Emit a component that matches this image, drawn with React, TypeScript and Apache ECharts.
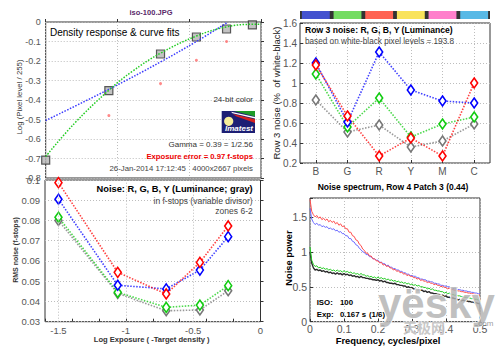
import React, { useEffect, useRef } from "react";
import * as echarts from "echarts";

const FONT = "'Liberation Sans', Arial, Helvetica, sans-serif";

// ---- Panel 1: density response ----
const densityX = [-1.5, -1.06, -0.7, -0.45, -0.24, -0.06];
const densityGray = [-0.708, -0.352, -0.164, -0.077, -0.036, -0.015];
const densityRedX = [-1.06, -0.7, -0.45, -0.24];
const densityRed = [-0.48, -0.316, -0.196, -0.1];
const fitBlueX = [-1.5, -1.06, -0.7, -0.45, -0.24];
const fitBlue = [-0.505, -0.345, -0.205, -0.1, -0.005];
const fitGreenX = [-1.5, -1.3, -1.06, -0.9, -0.7, -0.45, -0.24, -0.06, 0];
const fitGreen = [-0.69, -0.52, -0.35, -0.255, -0.16, -0.072, -0.025, -0.012, -0.012];

// ---- Panel 2: noise in f-stops ----
const noiseX = [-1.5, -1.06, -0.7, -0.45, -0.24];
const noiseR = [0.0987, 0.0544, 0.0437, 0.0593, 0.0773];
const noiseG = [0.0816, 0.0445, 0.0371, 0.0382, 0.0478];
const noiseB = [0.0905, 0.048, 0.0462, 0.0555, 0.072];
const noiseY = [0.08, 0.044, 0.0354, 0.0358, 0.0453];
const noiseGridX = [-1.5, -1, -0.5];

// ---- Panel 3: row 3 noise ----
const patchCats = ["B", "G", "R", "Y", "M", "C"];
const stripColors = ["#4352cf", "#74dc62", "#ff6453", "#f9e35c", "#ff7fcb", "#58b9e6"];
const rowR = [1.18, 0.67, 0.27, 0.45, 0.27, 1.0];
const rowG = [1.09, 0.56, 0.85, 0.46, 0.59, 0.66];
const rowB = [1.2, 0.61, 1.31, 0.93, 0.82, 0.8];
const rowY = [0.83, 0.51, 0.58, 0.36, 0.42, 0.59];

// ---- Panel 4: noise spectrum (step 0.005 cycles/pixel) ----
const specRed = [
  1.75, 1.58, 1.53, 1.5, 1.52, 1.48, 1.5, 1.46, 1.48, 1.45,
  1.47, 1.43, 1.45, 1.42, 1.44, 1.4, 1.42, 1.38, 1.4, 1.36,
  1.37, 1.33, 1.33, 1.28, 1.28, 1.23, 1.22, 1.17, 1.16, 1.11,
  1.09, 1.04, 1.02, 0.98, 0.98, 0.94, 0.94, 0.9, 0.9, 0.87,
  0.87, 0.84, 0.85, 0.81, 0.82, 0.79, 0.8, 0.77, 0.77, 0.74,
  0.75, 0.72, 0.73, 0.7, 0.71, 0.68, 0.69, 0.66, 0.67, 0.65,
  0.65, 0.63, 0.63, 0.61, 0.62, 0.59, 0.6, 0.58, 0.58, 0.56,
  0.57, 0.55, 0.55, 0.53, 0.54, 0.52, 0.52, 0.5, 0.51, 0.49,
  0.49, 0.47, 0.48, 0.46, 0.46, 0.45, 0.45, 0.44, 0.44, 0.43,
  0.43, 0.42, 0.42, 0.41, 0.41, 0.4, 0.4, 0.39, 0.39, 0.38,
  0.38,
];
const specBlue = [
  1.62, 1.47, 1.42, 1.39, 1.41, 1.38, 1.39, 1.36, 1.37, 1.35,
  1.36, 1.33, 1.34, 1.32, 1.33, 1.3, 1.31, 1.28, 1.29, 1.26,
  1.26, 1.23, 1.23, 1.19, 1.19, 1.15, 1.14, 1.1, 1.09, 1.05,
  1.03, 1.0, 0.99, 0.96, 0.96, 0.93, 0.93, 0.9, 0.9, 0.88,
  0.88, 0.85, 0.85, 0.83, 0.83, 0.8, 0.81, 0.78, 0.78, 0.76,
  0.76, 0.74, 0.74, 0.72, 0.72, 0.7, 0.7, 0.68, 0.68, 0.66,
  0.66, 0.65, 0.65, 0.63, 0.63, 0.61, 0.61, 0.6, 0.6, 0.58,
  0.58, 0.57, 0.57, 0.55, 0.55, 0.54, 0.54, 0.52, 0.52, 0.51,
  0.51, 0.5, 0.5, 0.48, 0.48, 0.47, 0.47, 0.46, 0.46, 0.45,
  0.45, 0.44, 0.44, 0.43, 0.43, 0.42, 0.42, 0.41, 0.41, 0.4,
  0.4,
];
const specGreen = [
  1.07, 0.88, 0.82, 0.79, 0.8, 0.77, 0.78, 0.76, 0.77, 0.75,
  0.76, 0.74, 0.75, 0.73, 0.74, 0.72, 0.74, 0.72, 0.73, 0.71,
  0.73, 0.71, 0.72, 0.7, 0.71, 0.69, 0.7, 0.68, 0.69, 0.67,
  0.69, 0.67, 0.67, 0.65, 0.66, 0.64, 0.65, 0.63, 0.64, 0.62,
  0.64, 0.62, 0.63, 0.61, 0.62, 0.6, 0.61, 0.59, 0.6, 0.58,
  0.59, 0.57, 0.58, 0.56, 0.57, 0.55, 0.56, 0.54, 0.55, 0.53,
  0.54, 0.52, 0.53, 0.51, 0.52, 0.5, 0.5, 0.49, 0.49, 0.47,
  0.48, 0.46, 0.47, 0.45, 0.45, 0.44, 0.44, 0.43, 0.43, 0.41,
  0.42, 0.4, 0.41, 0.39, 0.39, 0.38, 0.38, 0.37, 0.37, 0.36,
  0.36, 0.35, 0.35, 0.34, 0.34, 0.33, 0.33, 0.32, 0.32, 0.31,
  0.32,
];
const specGray = [
  1.0, 0.84, 0.77, 0.74, 0.75, 0.73, 0.74, 0.72, 0.73, 0.71,
  0.72, 0.7, 0.71, 0.69, 0.7, 0.68, 0.7, 0.68, 0.69, 0.67,
  0.69, 0.67, 0.68, 0.66, 0.67, 0.65, 0.66, 0.64, 0.65, 0.63,
  0.65, 0.63, 0.63, 0.62, 0.62, 0.61, 0.61, 0.6, 0.6, 0.59,
  0.6, 0.58, 0.59, 0.57, 0.58, 0.56, 0.56, 0.55, 0.55, 0.54,
  0.55, 0.53, 0.53, 0.52, 0.52, 0.51, 0.51, 0.49, 0.5, 0.48,
  0.49, 0.47, 0.47, 0.46, 0.46, 0.45, 0.45, 0.43, 0.44, 0.42,
  0.43, 0.41, 0.41, 0.4, 0.4, 0.39, 0.39, 0.37, 0.38, 0.36,
  0.37, 0.35, 0.35, 0.34, 0.34, 0.33, 0.33, 0.31, 0.32, 0.3,
  0.31, 0.3, 0.3, 0.29, 0.29, 0.28, 0.28, 0.27, 0.27, 0.26,
  0.26,
];

const pts = (xs: number[], ys: number[]) => xs.map((x, i) => [x, ys[i]]);
const specPts = (ys: number[]) => ys.map((y, i) => [i / 200, y]);

const LABEL = "#555";
const split = { show: true, lineStyle: { color: "#bdbdbd", type: [1, 2], width: 1 } };
const tick = { show: true, inside: true, length: 3, lineStyle: { color: "#333" } };
const noLine = { show: false };

function txt(text: string, x: number, y: number, o: any = {}) {
  return {
    type: "text",
    x,
    y,
    z: o.z || 100,
    rotation: o.rotation || 0,
    style: {
      text,
      fontFamily: o.fontFamily || FONT,
      fontSize: o.fontSize || 8,
      fontWeight: o.fontWeight || "normal",
      fontStyle: o.fontStyle || "normal",
      fill: o.fill || "#333",
      stroke: o.stroke,
      lineWidth: o.lineWidth,
      textAlign: o.align || "left",
      textVerticalAlign: o.valign || "middle",
    },
  };
}

function dotLine(name: string, data: any[], color: string, xi: number, yi: number, extra: any = {}) {
  return {
    type: "line",
    name,
    xAxisIndex: xi,
    yAxisIndex: yi,
    data,
    symbol: "diamond",
    symbolSize: [7, 10],
    showAllSymbol: true,
    itemStyle: { color: "#fff", borderColor: color, borderWidth: 1.6 },
    lineStyle: { color, type: [1.5, 1.5], width: 1.6, opacity: 0.75 },
    emphasis: { disabled: true },
    ...extra,
  };
}

export default function App() {
  const ref = useRef<HTMLDivElement>(null);
  useEffect(() => {
    if (!ref.current) return;
    const chart = echarts.init(ref.current, undefined, { renderer: "svg" });
    const gridBox = { show: true, borderColor: "#333", borderWidth: 1, backgroundColor: "#fff" };
    const option: any = {
      animation: false,
      backgroundColor: "#fff",
      grid: [
        { ...gridBox, left: 45.7, top: 22, width: 215.3, height: 156 },
        { ...gridBox, left: 45, top: 180, width: 215.5, height: 141.7 },
        { ...gridBox, left: 300, top: 23, width: 190, height: 140 },
        { ...gridBox, left: 310, top: 198, width: 170, height: 123.7 },
        { show: true, borderWidth: 0, backgroundColor: "#333", left: 300, top: 11, width: 190, height: 8 },
      ],
      xAxis: [
        { gridIndex: 0, type: "value", min: -1.5, max: 0, interval: 0.5, axisLine: noLine, axisTick: tick, axisLabel: { show: false }, splitLine: split },
        { gridIndex: 1, type: "value", min: -1.6, max: 0, interval: 0.2, axisLine: noLine, axisTick: tick, axisLabel: { show: false }, splitLine: { show: false } },
        {
          gridIndex: 1, type: "value", min: -1.6, max: 0, interval: 0.1, position: "bottom",
          axisLine: noLine, axisTick: { show: false }, splitLine: { show: false },
          axisLabel: {
            color: LABEL, fontFamily: FONT, fontSize: 9.5, margin: 4,
            formatter: (v: number) => {
              const k = Math.round(v * 10);
              return k === -15 ? "-1.5" : k === -10 ? "-1" : k === -5 ? "-0.5" : k === 0 ? "0" : "";
            },
          },
        },
        {
          gridIndex: 2, type: "category", data: patchCats, boundaryGap: true, axisLine: noLine,
          axisTick: { ...tick, alignWithLabel: true },
          splitLine: { ...split, alignWithLabel: true },
          axisLabel: { color: LABEL, fontFamily: FONT, fontSize: 10, margin: 3 },
        },
        {
          gridIndex: 3, type: "value", min: 0, max: 0.5, interval: 0.1, axisLine: noLine, axisTick: tick, splitLine: split,
          axisLabel: { color: LABEL, fontFamily: FONT, fontSize: 10.5, margin: 2, formatter: (v: number) => String(Math.round(v * 10) / 10) },
        },
        { gridIndex: 4, type: "category", data: patchCats, show: false },
      ],
      yAxis: [
        {
          gridIndex: 0, type: "value", min: -0.8, max: 0, interval: 0.1, axisLine: noLine, axisTick: tick, splitLine: split,
          axisLabel: { color: LABEL, fontFamily: FONT, fontSize: 9, margin: 5, formatter: (v: number) => String(Math.round(v * 10) / 10) },
        },
        {
          gridIndex: 1, type: "value", min: 0.03, max: 0.1, interval: 0.01, axisLine: noLine, axisTick: tick, splitLine: split,
          axisLabel: { color: LABEL, fontFamily: FONT, fontSize: 9.5, margin: 5, formatter: (v: number) => String(Math.round(v * 100) / 100) },
        },
        {
          gridIndex: 2, type: "value", min: 0.2, max: 1.6, interval: 0.2, axisLine: noLine, axisTick: tick, splitLine: split,
          axisLabel: { color: LABEL, fontFamily: FONT, fontSize: 10, margin: 3, formatter: (v: number) => String(Math.round(v * 10) / 10) },
        },
        {
          gridIndex: 3, type: "value", min: 0, max: 1.77, interval: 0.5, axisLine: noLine, axisTick: tick, splitLine: split,
          axisLabel: {
            color: LABEL, fontFamily: FONT, fontSize: 10.5, margin: 3,
            formatter: (v: number) => {
              const k = Math.round(v * 10);
              return k % 5 === 0 ? String(k / 10) : "";
            },
          },
        },
        { gridIndex: 4, type: "value", min: 0, max: 1, show: false },
      ],
      series: [
        // Panel 1
        {
          type: "line", xAxisIndex: 0, yAxisIndex: 0, data: pts(fitBlueX, fitBlue), smooth: 0.4, symbol: "none",
          lineStyle: { color: "#3b3bff", type: [1.5, 1.5], width: 1.5 }, emphasis: { disabled: true },
        },
        {
          type: "line", xAxisIndex: 0, yAxisIndex: 0, data: pts(fitGreenX, fitGreen), smooth: 0.4, symbol: "none",
          lineStyle: { color: "#22cc22", type: [1.5, 1.5], width: 1.5 }, emphasis: { disabled: true },
        },
        {
          type: "scatter", xAxisIndex: 0, yAxisIndex: 0, data: pts(densityRedX, densityRed), symbol: "circle", symbolSize: 3,
          itemStyle: { color: "#ff6b6b" }, emphasis: { disabled: true },
        },
        {
          type: "scatter", xAxisIndex: 0, yAxisIndex: 0, data: pts(densityX, densityGray), symbol: "rect", symbolSize: 8,
          itemStyle: { color: "#b4b4b4", borderColor: "#333", borderWidth: 1.2 }, emphasis: { disabled: true },
        },
        // Panel 2
        dotLine("Y", pts(noiseX, noiseY), "#777", 1, 1, {
          markLine: {
            silent: true, symbol: ["none", "none"], label: { show: false },
            lineStyle: { color: "#bdbdbd", type: [1, 2], width: 1 },
            data: noiseGridX.map((x) => ({ xAxis: x })),
          },
        }),
        dotLine("G", pts(noiseX, noiseG), "#11cc11", 1, 1),
        dotLine("B", pts(noiseX, noiseB), "#0000ff", 1, 1),
        dotLine("R", pts(noiseX, noiseR), "#ff0000", 1, 1),
        // Panel 3
        dotLine("Y", rowY, "#777", 3, 2),
        dotLine("G", rowG, "#11cc11", 3, 2),
        dotLine("B", rowB, "#0000ff", 3, 2),
        dotLine("R", rowR, "#ff0000", 3, 2),
        // color strip
        {
          type: "bar", xAxisIndex: 5, yAxisIndex: 4, barWidth: "88%",
          data: stripColors.map((c) => ({ value: 1, itemStyle: { color: c } })), emphasis: { disabled: true },
        },
        // Panel 4
        {
          type: "line", xAxisIndex: 4, yAxisIndex: 3, data: specPts(specGray), symbol: "none",
          lineStyle: { color: "#2a2a2a", width: 1.4 }, emphasis: { disabled: true },
        },
        {
          type: "line", xAxisIndex: 4, yAxisIndex: 3, data: specPts(specGreen), symbol: "none",
          lineStyle: { color: "#22cc22", width: 1 }, emphasis: { disabled: true },
        },
        {
          type: "line", xAxisIndex: 4, yAxisIndex: 3, data: specPts(specBlue), symbol: "none",
          lineStyle: { color: "#6b6bff", width: 1 }, emphasis: { disabled: true },
        },
        {
          type: "line", xAxisIndex: 4, yAxisIndex: 3, data: specPts(specRed), symbol: "none",
          lineStyle: { color: "#ff4d4d", width: 1 }, emphasis: { disabled: true },
        },
      ],
      graphic: [
        txt("iso-100.JPG", 151, 12, { fontSize: 7.5, fontWeight: "bold", fill: "#5a2a6a", align: "center" }),
        txt("Density response & curve fits", 50, 32, { fontSize: 10, fill: "#000" }),
        txt("24-bit color", 253, 99, { fontSize: 8, fill: "#333", align: "right" }),
        { type: "rect", z: 100, shape: { x: 221.7, y: 111, width: 33.3, height: 22 }, style: { fill: "#1d1f74" } },
        { type: "polygon", z: 101, shape: { points: [[234, 111], [255, 111], [255, 116.5]] }, style: { fill: "#1e9a2a" } },
        { type: "polygon", z: 101, shape: { points: [[231, 111.8], [255, 117], [255, 118.6], [232.5, 113.2]] }, style: { fill: "#ffffff" } },
        { type: "polygon", z: 101, shape: { points: [[233, 114], [255, 119.2], [255, 123], [236, 116.3]] }, style: { fill: "#d52020" } },
        { type: "circle", z: 102, shape: { cx: 228.7, cy: 121.3, r: 4.6 }, style: { fill: "#f7ee9a" } },
        txt("Imatest", 239, 128.7, { fontSize: 8, fontWeight: "bold", fontStyle: "italic", fill: "#fff", align: "center", z: 103 }),
        txt("Gamma = 0.39 = 1/2.56", 253, 144, { fontSize: 8, fill: "#333", align: "right" }),
        txt("Exposure error = 0.97 f-stops", 253, 156, { fontSize: 7.7, fontWeight: "bold", fill: "#ee0000", align: "right" }),
        txt("26-Jan-2014 17:12:45   4000x2667 pixels", 253, 168, { fontSize: 7.8, fill: "#444", align: "right" }),
        txt("Log (Pixel level / 255)", 19, 97, { fontSize: 7.8, fill: "#333", align: "center", rotation: Math.PI / 2 }),
        txt("Noise: R, G, B, Y (Luminance; gray)", 252.7, 189.3, { fontSize: 9.3, fontWeight: "bold", fill: "#000", align: "right" }),
        txt("in f-stops (variable divisor)", 252.7, 200.7, { fontSize: 8.5, fill: "#444", align: "right" }),
        txt("zones 6-2", 252.7, 210.5, { fontSize: 8.5, fill: "#444", align: "right" }),
        txt("RMS noise (f-stops)", 15.5, 250, { fontSize: 7, fontWeight: "bold", fill: "#333", align: "center", rotation: Math.PI / 2 }),
        txt("Log Exposure ( -Target density )", 151.7, 339.5, { fontSize: 7.6, fontWeight: "bold", fill: "#333", align: "center" }),
        txt("Row 3 noise: R, G, B, Y (Luminance)", 305, 29.5, { fontSize: 8.6, fontWeight: "bold", fill: "#000" }),
        txt("based on white-black pixel levels = 193.8", 305, 41, { fontSize: 8.2, fill: "#444" }),
        txt("Row 3 noise (%  of white-black)", 276, 93, { fontSize: 9.5, fill: "#222", align: "center", rotation: Math.PI / 2 }),
        txt("Noise spectrum, Row 4 Patch 3 (0.44)", 393, 187, { fontSize: 8.5, fontWeight: "bold", fill: "#000", align: "center" }),
        txt("Noise power", 289, 258, { fontSize: 9.3, fontWeight: "bold", fill: "#000", align: "center", rotation: Math.PI / 2 }),
        txt("Frequency, cycles/pixel", 388, 340.5, { fontSize: 9.4, fontWeight: "bold", fill: "#000", align: "center" }),
        txt("ISO:", 316.7, 302.7, { fontSize: 7.8, fontWeight: "bold", fill: "#000" }),
        txt("100", 340, 302.7, { fontSize: 7.8, fontWeight: "bold", fill: "#000" }),
        txt("Exp:", 316.7, 314, { fontSize: 7.8, fontWeight: "bold", fill: "#000" }),
        txt("0.167 s", 340, 314, { fontSize: 7.8, fontWeight: "bold", fill: "#000" }),
        txt("(1/6)", 369, 314, { fontSize: 7.8, fontWeight: "bold", fill: "#000" }),
        // watermark
        txt("yësky", 378, 303, { fontSize: 42, fontWeight: "bold", fill: "rgba(178,178,178,0.82)", stroke: "#ffffff", lineWidth: 1.5, z: 110 }),
        txt("天极网", 424, 327, { fontSize: 14, fontFamily: "'Noto Sans CJK SC', sans-serif", fontWeight: "bold", fill: "rgba(185,185,185,0.8)", stroke: "#ffffff", lineWidth: 0.8, align: "center", z: 110 }),
        txt(".com", 476, 323, { fontSize: 8, fill: "rgba(130,130,130,0.8)", z: 110 }),
      ],
    };
    chart.setOption(option);
    return () => chart.dispose();
  }, []);
  return (
    <div
      ref={ref}
      style={{ position: "fixed", left: 0, top: 0, width: 500, height: 353, background: "#fff" }}
    />
  );
}
